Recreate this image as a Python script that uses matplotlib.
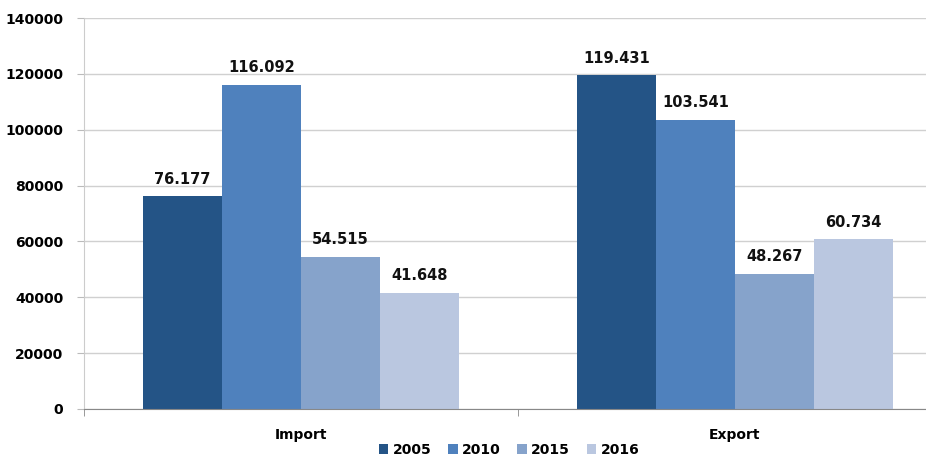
import matplotlib
matplotlib.use("Agg")
import matplotlib.pyplot as plt
import numpy as np

categories = ["Import", "Export"]
series_names = ["2005", "2010", "2015", "2016"]
values_2005 = [76177, 119431]
values_2010 = [116092, 103541]
values_2015 = [54515, 48267]
values_2016 = [41648, 60734]
series_values = [values_2005, values_2010, values_2015, values_2016]
colors = ["#245486", "#4f81bd", "#86a3cb", "#bac7e0"]
yticks = [0, 20000, 40000, 60000, 80000, 100000, 120000, 140000]

W, H = 926, 457
fig = plt.figure(figsize=(W / 100, H / 100), dpi=100)
left, right, top, bottom = 84, 926, 18, 409
ax = fig.add_axes([left / W, 1 - bottom / H, (right - left) / W, (bottom - top) / H])

x = np.arange(len(categories))
group_w = 0.727
bw = group_w / len(series_names)
for i, (name, vals, c) in enumerate(zip(series_names, series_values, colors)):
    pos = x - group_w / 2 + bw * (i + 0.5)
    bars = ax.bar(pos, vals, width=bw, color=c, label=name, zorder=3)
    for b, v in zip(bars, vals):
        s = f"{v:,}".replace(",", ".")
        ax.annotate(s, (b.get_x() + b.get_width() / 2, v), xytext=(0, 7),
                    textcoords="offset points", ha="center", va="bottom",
                    fontsize=10.5, fontweight="bold", color="#111111")

ax.set_yticks(yticks)
ax.set_yticklabels([str(t) for t in yticks], fontsize=10, fontweight="bold")
ax.set_xticks(x)
ax.set_xticklabels(categories, fontsize=10, fontweight="bold")
ax.tick_params(axis="x", length=0, pad=14)
ax.set_xticks([-0.5, 0.5], minor=True)
ax.tick_params(axis="x", which="minor", length=5, color="#888888", direction="out")
ax.tick_params(axis="y", length=5, color="#bbbbbb", pad=10)
ax.set_xlim(-0.5, -0.5 + (right - left) / 434)
ax.set_ylim(0, 140000)
ax.yaxis.grid(True, color="#d0d0d0", linewidth=1, zorder=0)
for s in ["top", "right"]:
    ax.spines[s].set_visible(False)
ax.spines["left"].set_color("#cccccc")
ax.spines["bottom"].set_color("#888888")
ax.spines["bottom"].set_zorder(4)

leg = fig.legend(loc="center", bbox_to_anchor=(509 / W, 1 - 450 / H), ncol=4, frameon=False,
                 prop={"weight": "bold", "size": 10}, handlelength=0.7, handleheight=0.7,
                 handletextpad=0.3, columnspacing=1.2)

fig.savefig("out.png", dpi=100)
